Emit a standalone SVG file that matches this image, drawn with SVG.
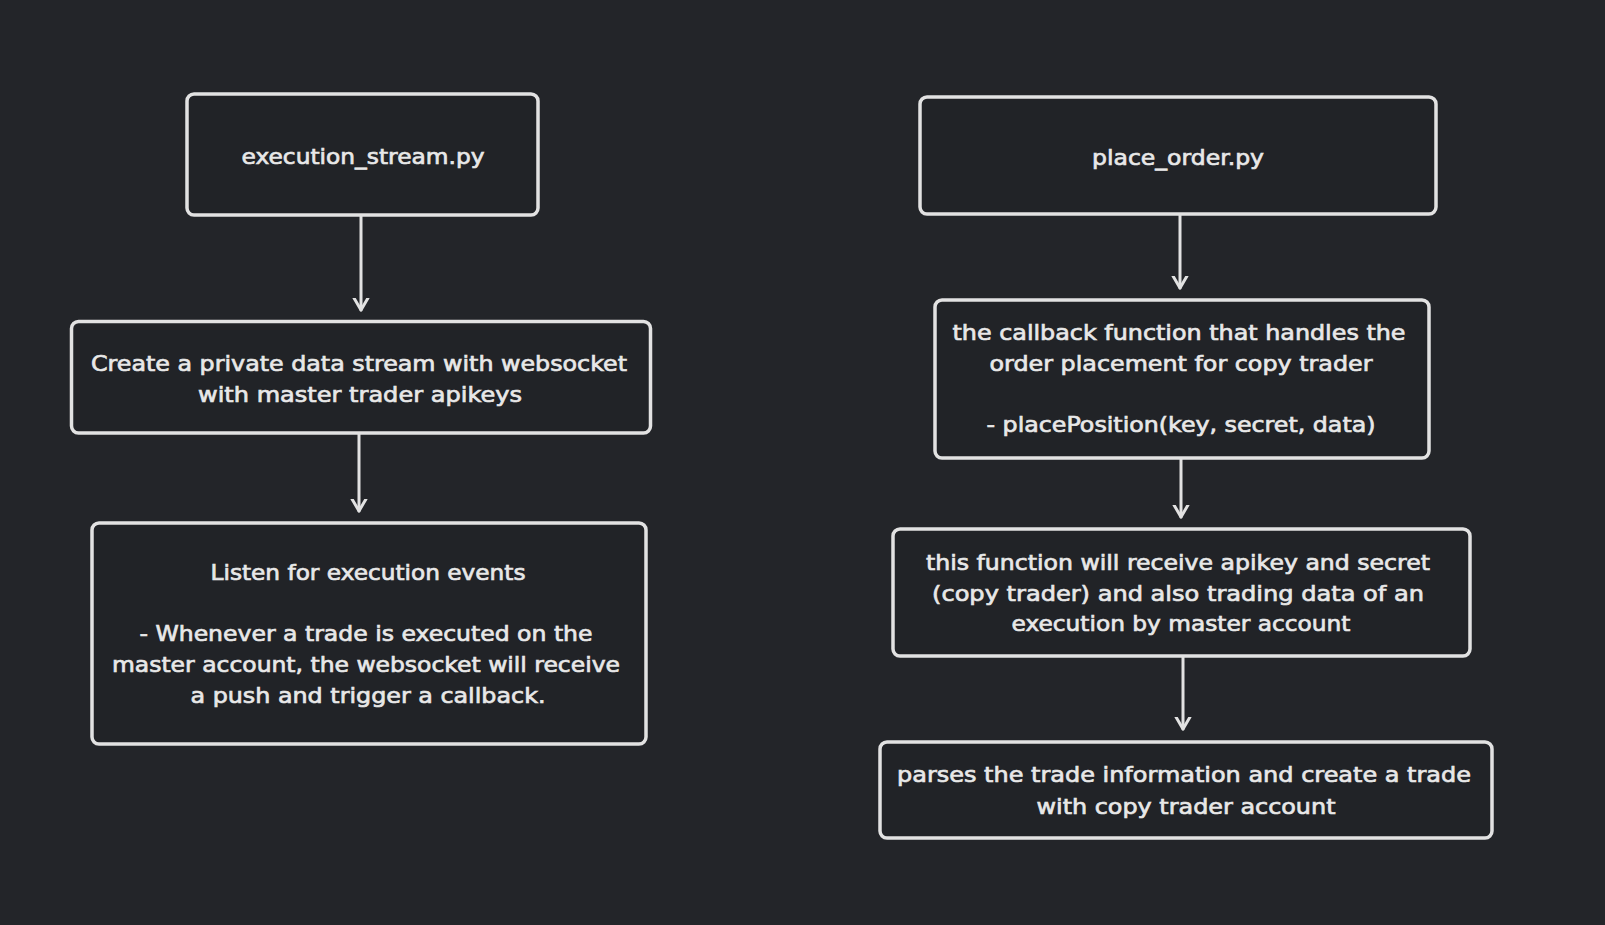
<svg xmlns="http://www.w3.org/2000/svg" width="1605" height="925" viewBox="0 0 1605 925">
<defs>
<style>
.box{fill:#212327;stroke:#e2e2e2;stroke-width:3.5}
.lbl{font-family:"DejaVu Sans","Liberation Sans",sans-serif;font-size:22px;fill:#e8e8e8;stroke:#e8e8e8;stroke-width:0.7;text-anchor:middle}
.conn{stroke:#e2e2e2;stroke-width:3;fill:none;stroke-linecap:round}
</style>
<marker id="arr" markerUnits="userSpaceOnUse" markerWidth="24" markerHeight="24" viewBox="-12 -12 24 24" refX="0" refY="0" orient="auto">
<path d="M-12,-7 L0,0 L-12,7" fill="none" stroke="#e2e2e2" stroke-width="3" stroke-linecap="round" stroke-linejoin="round"/>
</marker>
</defs>
<rect width="1605" height="925" fill="#232529"/>
<g id="connectors">
<path class="conn" d="M361,216 L361,310" marker-end="url(#arr)"/>
<path class="conn" d="M359,434 L359,511" marker-end="url(#arr)"/>
<path class="conn" d="M1180,215 L1180,288" marker-end="url(#arr)"/>
<path class="conn" d="M1181,459 L1181,517" marker-end="url(#arr)"/>
<path class="conn" d="M1183,657 L1183,729" marker-end="url(#arr)"/>
</g>
<g id="execution_stream">
<rect class="box" x="187" y="94" width="351" height="121" rx="7"/>
<text class="lbl" x="363" y="164" textLength="243" lengthAdjust="spacingAndGlyphs">execution_stream.py</text>
</g>
<g id="create_stream">
<rect class="box" x="71.5" y="321.5" width="579" height="111.5" rx="7"/>
<text class="lbl" x="359" y="371" textLength="536" lengthAdjust="spacingAndGlyphs">Create a private data stream with websocket</text>
<text class="lbl" x="360" y="402" textLength="324" lengthAdjust="spacingAndGlyphs">with master trader apikeys</text>
</g>
<g id="listen_events">
<rect class="box" x="92" y="523" width="554" height="221" rx="7"/>
<text class="lbl" x="368" y="580" textLength="315" lengthAdjust="spacingAndGlyphs">Listen for execution events</text>
<text class="lbl" x="366" y="641" textLength="453" lengthAdjust="spacingAndGlyphs">- Whenever a trade is executed on the</text>
<text class="lbl" x="366" y="672" textLength="508" lengthAdjust="spacingAndGlyphs">master account, the websocket will receive</text>
<text class="lbl" x="368" y="703" textLength="355" lengthAdjust="spacingAndGlyphs">a push and trigger a callback.</text>
</g>
<g id="place_order">
<rect class="box" x="920" y="97" width="516" height="117" rx="7"/>
<text class="lbl" x="1178" y="165" textLength="172" lengthAdjust="spacingAndGlyphs">place_order.py</text>
</g>
<g id="callback">
<rect class="box" x="935" y="300" width="494" height="158" rx="7"/>
<text class="lbl" x="1179" y="340" textLength="453" lengthAdjust="spacingAndGlyphs">the callback function that handles the</text>
<text class="lbl" x="1181" y="371" textLength="383" lengthAdjust="spacingAndGlyphs">order placement for copy trader</text>
<text class="lbl" x="1181" y="432" textLength="389" lengthAdjust="spacingAndGlyphs">- placePosition(key, secret, data)</text>
</g>
<g id="receive_keys">
<rect class="box" x="893" y="529" width="577" height="127" rx="7"/>
<text class="lbl" x="1178" y="570" textLength="504" lengthAdjust="spacingAndGlyphs">this function will receive apikey and secret</text>
<text class="lbl" x="1178" y="601" textLength="492" lengthAdjust="spacingAndGlyphs">(copy trader) and also trading data of an</text>
<text class="lbl" x="1181" y="631" textLength="339" lengthAdjust="spacingAndGlyphs">execution by master account</text>
</g>
<g id="parse_trade">
<rect class="box" x="880" y="742" width="612" height="96" rx="7"/>
<text class="lbl" x="1184" y="782" textLength="574" lengthAdjust="spacingAndGlyphs">parses the trade information and create a trade</text>
<text class="lbl" x="1186" y="814" textLength="299" lengthAdjust="spacingAndGlyphs">with copy trader account</text>
</g>
</svg>
